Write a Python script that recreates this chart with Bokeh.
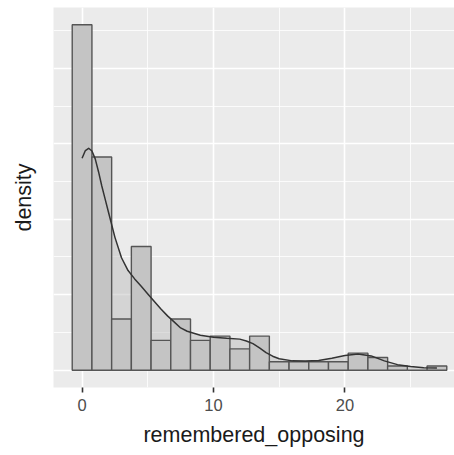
import numpy as np
from bokeh.plotting import figure
from bokeh.models import FixedTicker, Title
from bokeh.embed import file_html
from bokeh.resources import INLINE

# ---- data ----
bin_centers = [0, 1.5, 3, 4.5, 6, 7.5, 9, 10.5, 12, 13.5, 15, 16.5, 18, 19.5, 21, 22.5, 24, 25.5, 27]
bin_counts = [81, 50, 12, 29, 7, 12, 7, 8, 5, 8, 2, 2, 2, 2, 4, 3, 1, 0, 1]
bin_width = 1.5

kde_x = [0, 0.25, 0.5, 0.75, 1, 1.25, 1.5, 1.75, 2, 2.5, 3, 3.5, 4, 4.5, 5, 5.5, 6, 6.5, 7, 7.5,
         8, 9, 10, 11, 12, 12.5, 13, 13.5, 14, 14.5, 15, 16, 17, 18, 19, 20, 21, 22, 23,
         24, 25, 26, 27]
kde_y = [0.1404, 0.1455, 0.147, 0.1452, 0.1400, 0.1315, 0.122, 0.1135, 0.105, 0.088,
         0.0745, 0.066, 0.0605, 0.0556, 0.0505, 0.0455, 0.0405, 0.036, 0.032, 0.028,
         0.0258, 0.0232, 0.0218, 0.0211, 0.0206, 0.0194, 0.0176, 0.0148, 0.0117, 0.0093,
         0.0076, 0.0062, 0.0061, 0.0065, 0.0080, 0.0097, 0.0107, 0.0095, 0.0062,
         0.0037, 0.0024, 0.0017, 0.0015]

x_ticks = [0, 10, 20]
x_minor_ticks = [5, 15, 25]
y_grid_major = [0, 0.05, 0.10, 0.15, 0.20]
y_grid_minor = [0.025, 0.075, 0.125, 0.175, 0.225]

x_title = "remembered_opposing"
y_title = "density"

# ---- derived ----
counts = np.array(bin_counts, dtype=float)
centers = np.array(bin_centers, dtype=float)
dens = counts / (counts.sum() * bin_width)
left = centers - bin_width / 2
right = centers + bin_width / 2

top_val = max(dens.max(), max(kde_y))
y0 = -0.05 * top_val
y1 = 1.05 * top_val
lo_x = left.min()
hi_x = right.max()
span = hi_x - lo_x
x0 = lo_x - 0.05 * span
# frame is cropped at the window's right edge
frame_left, frame_right = 53, 454
full_panel_right = 465.0
x_full_right = hi_x + 0.05 * span
px_per_unit = (full_panel_right - frame_left) / (x_full_right - x0)
x1 = x0 + (frame_right - frame_left) / px_per_unit

FONT = "Liberation Sans"

p = figure(width=454, height=455, x_range=(x0, x1), y_range=(y0, y1),
           output_backend="svg", toolbar_location=None,
           min_border_left=frame_left, min_border_right=0,
           min_border_top=7, min_border_bottom=68)
p.background_fill_color = "#EBEBEB"
p.border_fill_color = "white"
p.outline_line_color = None

# grids
p.xgrid.ticker = FixedTicker(ticks=x_ticks, minor_ticks=x_minor_ticks)
p.xgrid.grid_line_color = "white"
p.xgrid.grid_line_width = 1.6
p.xgrid.minor_grid_line_color = "white"
p.xgrid.minor_grid_line_width = 0.8
p.ygrid.ticker = FixedTicker(ticks=y_grid_major, minor_ticks=y_grid_minor)
p.ygrid.grid_line_color = "white"
p.ygrid.grid_line_width = 1.6
p.ygrid.minor_grid_line_color = "white"
p.ygrid.minor_grid_line_width = 0.8

# x axis
p.xaxis.ticker = FixedTicker(ticks=x_ticks, minor_ticks=x_minor_ticks)
p.xaxis.axis_line_color = None
p.xaxis.major_tick_line_color = "#333333"
p.xaxis.major_tick_line_width = 1.6
p.xaxis.major_tick_out = 5
p.xaxis.major_tick_in = 0
p.xaxis.minor_tick_line_color = None
p.xaxis.major_label_text_font = FONT
p.xaxis.major_label_text_font_size = "16.5px"
p.xaxis.major_label_text_color = "#4D4D4D"
p.xaxis.major_label_standoff = 6

# y axis: no ticks, only the title
p.yaxis.ticker = FixedTicker(ticks=[])
p.yaxis.axis_line_color = None
p.yaxis.major_tick_line_color = None
p.yaxis.minor_tick_line_color = None
p.yaxis.axis_label = y_title
p.yaxis.axis_label_text_font = FONT
p.yaxis.axis_label_text_font_size = "21.5px"
p.yaxis.axis_label_text_font_style = "normal"
p.yaxis.axis_label_text_color = "#1A1A1A"
p.yaxis.axis_label_standoff = 18

# density fill (under bars)
p.varea(x=kde_x, y1=0, y2=kde_y, fill_color="#BEBEBE", fill_alpha=0.5)

# histogram bars
p.quad(left=left, right=right, bottom=0, top=dens,
       fill_color="#C4C4C4", line_color="#555555", line_width=1.4)

# density curve
p.line(kde_x, kde_y, line_color="#333333", line_width=1.5, line_join="round")

# x-axis title, centred on the full (uncropped) panel
frame_center = (frame_left + frame_right) / 2
full_center = (frame_left + full_panel_right) / 2
p.add_layout(Title(text=x_title, align="center", offset=full_center - frame_center,
                   text_font=FONT, text_font_size="21.5px", text_font_style="normal",
                   text_color="#1A1A1A", standoff=14), "below")

open("out.html", "w").write(file_html(p, INLINE))
